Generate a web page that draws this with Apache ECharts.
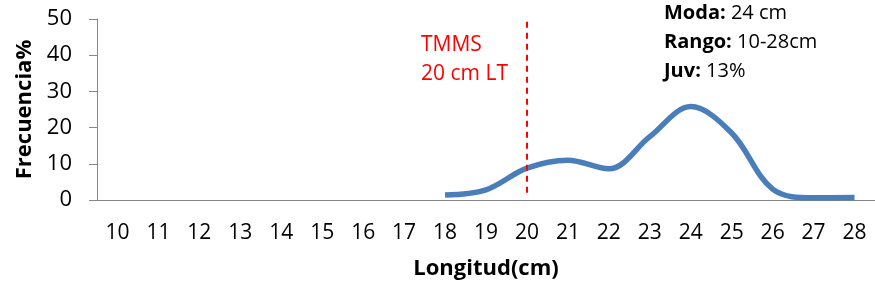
<!DOCTYPE html>
<html>
<head>
<meta charset="utf-8">
<script src="https://cdn.jsdelivr.net/npm/echarts@6/dist/echarts.min.js"></script>
<style>
  html, body { margin: 0; padding: 0; background: #fff; }
  #chart { width: 875px; height: 292px; }
</style>
</head>
<body>
<div id="chart"></div>
<script>
// tallas (cm) y frecuencia (%)
var longitudes = ['10','11','12','13','14','15','16','17','18','19','20','21','22','23','24','25','26','27','28'];
var frecuencia = [null,null,null,null,null,null,null,null,1.4,2.8,8.8,11,8.6,17.5,25.8,18.5,3,0.6,0.7];
var yTicks = [0, 10, 20, 30, 40, 50];
var tmms = '20';

var fontFam = '"Open Sans", "Liberation Sans", sans-serif';
var chart = echarts.init(document.getElementById('chart'));

chart.setOption({
    animation: false,
    backgroundColor: '#ffffff',
    grid: { left: 97, right: -1, top: 19, bottom: 92 },
    xAxis: {
        type: 'category',
        data: longitudes,
        boundaryGap: true,
        name: 'Longitud(cm)',
        nameLocation: 'middle',
        nameGap: 58,
        nameTextStyle: { color: '#000', fontSize: 22, fontWeight: 'bold', fontFamily: fontFam },
        axisLine: { lineStyle: { color: '#868686', width: 1 } },
        axisTick: { show: false },
        axisLabel: { color: '#000', fontSize: 21, margin: 23, fontFamily: fontFam, interval: 0 }
    },
    yAxis: {
        type: 'value',
        min: yTicks[0],
        max: yTicks[yTicks.length - 1],
        interval: 10,
        name: 'Frecuencia%',
        nameLocation: 'middle',
        nameGap: 61,
        nameTextStyle: { color: '#000', fontSize: 22, fontWeight: 'bold', fontFamily: fontFam },
        axisLine: { show: true, lineStyle: { color: '#868686', width: 1 } },
        axisTick: { show: true, length: 8, inside: false, lineStyle: { color: '#868686' } },
        axisLabel: { color: '#000', fontSize: 22, margin: 25, fontFamily: fontFam },
        splitLine: { show: false }
    },
    series: [
        {
            type: 'line',
            data: frecuencia,
            smooth: 0.35,
            connectNulls: false,
            showSymbol: false,
            lineStyle: { color: '#4a7ebb', width: 5.5 },
            markLine: {
                silent: true,
                symbol: ['none', 'none'],
                label: { show: false },
                lineStyle: { color: '#ff0000', type: [6, 5], width: 2 },
                data: [[{ coord: [tmms, 2] }, { coord: [tmms, 50] }]]
            }
        }
    ],
    graphic: [
        {
            type: 'text', left: 421, top: 31,
            style: { text: 'TMMS\n20 cm LT', fill: '#ff0000', font: '21px ' + fontFam, lineHeight: 29 }
        },
        {
            type: 'text', left: 664, top: -1,
            style: {
                text: '{b|Moda:} 24 cm\n{b|Rango:} 10-28cm\n{b|Juv:} 13%',
                fill: '#000', font: '20px ' + fontFam, lineHeight: 29,
                rich: { b: { fontWeight: 'bold', fontSize: 20, fontFamily: fontFam, fill: '#000' } }
            }
        }
    ]
});
</script>
</body>
</html>
